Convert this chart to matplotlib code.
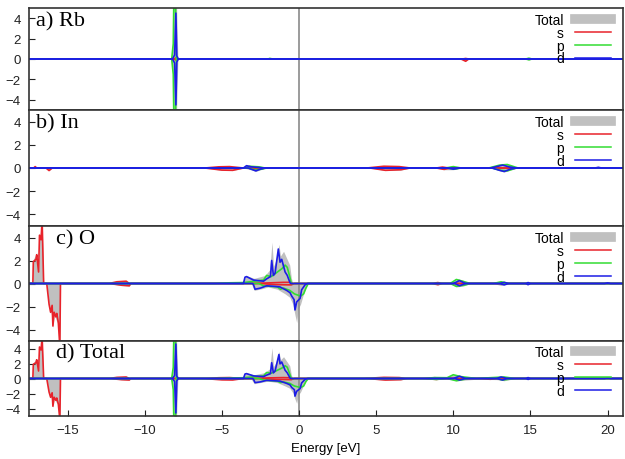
"""
Projected DOS of Rb/In/O with total, spin up (+) and spin down (-)
Four stacked panels sharing the energy axis
"""
import matplotlib
matplotlib.use('Agg')
import matplotlib.pyplot as plt
from matplotlib.lines import Line2D

plt.rcParams['font.family'] = ['Liberation Sans', 'DejaVu Sans']
plt.rcParams['font.size'] = 9.5

# ---- data: (energy eV, DOS) pairs; down spin negative ----
# a) Rb
a_tot_up = [(-17.5, 0), (-8.3, 0), (-8.15, 2.0), (-8.07, 7.0), (-7.95, 6.0), (-7.85, 0),
            (10.6, 0), (10.8, 0.05), (11.0, 0), (14.7, 0), (14.9, 0.1), (15.1, 0), (21, 0)]
a_tot_dn = [(-17.5, 0), (-8.3, 0), (-8.15, -2.0), (-8.07, -7.0), (-7.95, -6.0), (-7.85, 0),
            (10.6, 0), (10.8, -0.2), (11.0, 0), (14.7, 0), (14.9, -0.1), (15.1, 0), (21, 0)]
a_s_up = [(-17.5, 0), (-8.1, 0), (-8.0, 0.1), (-7.9, 0), (10.6, 0), (10.8, 0.05), (11.0, 0), (21, 0)]
a_s_dn = [(-17.5, 0), (-8.1, 0), (-8.0, -0.1), (-7.9, 0), (10.5, 0), (10.8, -0.22), (11.0, 0), (21, 0)]
a_p_up = [(-17.5, 0), (-8.25, 0), (-8.15, 1.5), (-8.1, 7.0), (-8.02, 7.0), (-7.95, 0),
          (-2.0, 0), (-1.9, 0.06), (-1.7, 0), (14.7, 0), (14.9, 0.08), (15.1, 0), (21, 0)]
a_p_dn = [(-17.5, 0), (-8.25, 0), (-8.15, -1.5), (-8.1, -7.0), (-8.02, -7.0), (-7.95, 0),
          (14.7, 0), (14.9, -0.08), (15.1, 0), (21, 0)]
a_d_up = [(-17.5, 0), (-8.2, 0), (-8.06, 0.4), (-7.98, 4.5), (-7.92, 0.3), (-7.82, 0), (21, 0)]
a_d_dn = [(-17.5, 0), (-8.2, 0), (-8.06, -0.4), (-7.98, -4.5), (-7.92, -0.3), (-7.82, 0), (21, 0)]

# b) In
b_tot_up = [(-17.5, 0), (-17.2, 0), (-17.1, 0.12), (-17.0, 0), (-6.1, 0), (-5.2, 0.12), (-4.5, 0.15),
            (-3.6, 0.05), (-3.4, 0.3), (-3.0, 0.15), (-2.2, 0), (4.4, 0), (5.5, 0.18), (6.5, 0.15),
            (7.2, 0), (8.9, 0), (9.3, 0.1), (10.0, 0.15), (10.5, 0), (12.3, 0), (13.0, 0.3),
            (13.4, 0.35), (14.2, 0), (21, 0)]
b_tot_dn = [(-17.5, 0), (-16.4, 0), (-16.2, -0.22), (-16.0, 0), (-6.1, 0), (-5.0, -0.2), (-4.3, -0.22),
            (-3.6, 0), (-3.0, -0.2), (-2.8, -0.3), (-2.2, 0), (4.6, 0), (5.6, -0.22), (6.6, -0.18),
            (7.2, 0), (8.9, 0), (9.4, -0.15), (10.0, -0.15), (10.5, 0), (12.5, 0), (13.0, -0.25),
            (13.3, -0.35), (14.1, 0), (21, 0)]
b_s_up = [(-17.5, 0), (-17.2, 0), (-17.1, 0.12), (-17.0, 0), (-6.1, 0), (-5.2, 0.1), (-4.5, 0.12),
          (-3.6, 0), (4.4, 0), (5.5, 0.15), (6.5, 0.12), (7.2, 0), (8.9, 0), (9.3, 0.08), (9.7, 0), (21, 0)]
b_s_dn = [(-17.5, 0), (-16.4, 0), (-16.2, -0.22), (-16.0, 0), (-6.1, 0), (-5.0, -0.18), (-4.3, -0.2),
          (-3.6, 0), (4.6, 0), (5.6, -0.2), (6.6, -0.15), (7.2, 0), (8.9, 0), (9.4, -0.12), (9.8, 0), (21, 0)]
b_p_up = [(-17.5, 0), (-3.5, 0), (-3.2, 0.15), (-2.6, 0.1), (-2.2, 0), (9.5, 0), (10.0, 0.12),
          (10.5, 0), (12.3, 0), (13.0, 0.25), (13.5, 0.3), (14.2, 0), (21, 0)]
b_p_dn = [(-17.5, 0), (-3.3, 0), (-2.9, -0.15), (-2.4, -0.1), (-2.1, 0), (9.6, 0), (10.1, -0.1),
          (10.5, 0), (12.5, 0), (13.1, -0.2), (13.5, -0.25), (14.1, 0), (21, 0)]
b_d_up = [(-17.5, 0), (-3.6, 0), (-3.4, 0.2), (-3.1, 0.1), (-2.6, 0.05), (-2.3, 0), (12.4, 0),
          (12.9, 0.15), (13.2, 0.25), (13.6, 0.1), (14.1, 0), (19.2, 0), (19.4, 0.06), (19.6, 0), (21, 0)]
b_d_dn = [(-17.5, 0), (-3.3, 0), (-3.0, -0.15), (-2.8, -0.25), (-2.5, -0.1), (-2.2, 0), (9.6, 0),
          (10.0, -0.1), (10.4, 0), (12.5, 0), (13.0, -0.2), (13.3, -0.3), (13.7, -0.1), (14.1, 0), (21, 0)]

# c) O
c_tot_up = [(-17.5, 0), (-17.25, 0), (-17.22, 2.1), (-17.0, 2.7), (-16.88, 1.2), (-16.82, 4.4),
            (-16.72, 4.0), (-16.65, 5.5), (-16.55, 0), (-12.3, 0), (-11.8, 0.18), (-11.2, 0.22),
            (-11.0, 0), (-5.5, 0), (-4.5, 0.08), (-3.6, 0.1), (-3.45, 0.7), (-2.9, 0.45), (-2.2, 0.7),
            (-1.9, 1.2), (-1.75, 3.6), (-1.65, 1.5), (-1.5, 2.0), (-1.3, 3.4), (-1.2, 2.4),
            (-1.0, 2.8), (-0.8, 2.2), (-0.6, 1.6), (-0.5, 0.5), (-0.4, 0), (8.6, 0), (9.0, 0.1),
            (9.3, 0), (9.8, 0), (10.3, 0.4), (10.6, 0.3), (11.1, 0), (12.6, 0), (13.1, 0.2),
            (13.6, 0), (14.6, 0), (14.8, 0.12), (15.0, 0), (19.8, 0), (20.0, 0.06), (20.2, 0), (21, 0)]
c_tot_dn = [(-17.5, 0), (-16.35, 0), (-16.2, -1.9), (-16.1, -2.7), (-16.0, -2.0), (-15.95, -3.9),
            (-15.87, -2.7), (-15.76, -3.1), (-15.6, -3.6), (-15.5, -5.5), (-15.46, 0), (-12.3, 0),
            (-11.5, -0.18), (-11.0, -0.22), (-10.9, 0), (-3.1, 0), (-2.9, -0.6), (-2.4, -0.45),
            (-2.0, -0.3), (-1.4, -0.5), (-0.9, -0.9), (-0.6, -1.2), (-0.4, -1.8), (-0.25, -2.8),
            (-0.15, -3.4), (-0.05, -2.2), (0.1, -1.8), (0.25, -1.1), (0.45, -0.3), (0.6, 0),
            (8.6, 0), (9.0, -0.12), (9.3, 0), (9.8, 0), (10.2, -0.3), (10.7, -0.2), (11.1, 0),
            (12.6, 0), (13.1, -0.18), (13.6, 0), (14.6, 0), (14.8, -0.12), (15.0, 0), (21, 0)]
c_s_up = [(-17.5, 0), (-17.25, 0), (-17.22, 1.9), (-17.05, 2.1), (-17.0, 2.5), (-16.88, 1.0),
          (-16.82, 4.2), (-16.72, 3.8), (-16.65, 5.5), (-16.55, 0), (-12.3, 0), (-11.8, 0.15),
          (-11.2, 0.2), (-11.0, 0), (-3.0, 0), (-2.0, 0.05), (-1.0, 0.1), (-0.6, 0.1), (-0.4, 0),
          (8.6, 0), (9.0, 0.08), (9.3, 0), (21, 0)]
c_s_dn = [(-17.5, 0), (-16.35, 0), (-16.2, -1.8), (-16.1, -2.5), (-16.0, -1.9), (-15.95, -3.7),
          (-15.87, -2.5), (-15.76, -2.9), (-15.7, -2.6), (-15.6, -3.4), (-15.5, -5.5), (-15.46, 0),
          (-12.3, 0), (-11.5, -0.15), (-11.0, -0.2), (-10.9, 0), (-2.5, 0), (-1.5, -0.1),
          (-0.5, -0.12), (-0.3, 0), (8.6, 0), (9.0, -0.1), (9.3, 0), (21, 0)]
c_p_up = [(-17.5, 0), (-5.5, 0), (-4.5, 0.06), (-3.6, 0.08), (-2.3, 0.3), (-2.1, 0.7), (-1.8, 0.6),
          (-1.6, 0.8), (-1.4, 1.0), (-1.1, 1.3), (-0.9, 1.6), (-0.76, 1.4), (-0.6, 0.6), (-0.5, 0),
          (9.8, 0), (10.2, 0.35), (10.6, 0.2), (11.1, 0), (12.6, 0), (13.1, 0.15), (13.6, 0), (21, 0)]
c_p_dn = [(-17.5, 0), (-2.6, 0), (-2.3, -0.2), (-1.4, -0.3), (-1.2, -0.5), (-1.0, -0.4), (-0.6, -0.6),
          (-0.3, -0.9), (0.1, -1.1), (0.3, -0.9), (0.45, -0.4), (0.6, 0), (9.8, 0), (10.2, -0.25),
          (10.7, -0.15), (11.1, 0), (21, 0)]
c_d_up = [(-17.5, 0), (-3.6, 0), (-3.5, 0.55), (-3.4, 0.6), (-2.95, 0.3), (-2.3, 0.2), (-2.1, 0.4),
          (-1.85, 0.6), (-1.77, 2.0), (-1.66, 0.7), (-1.55, 0.9), (-1.34, 3.0), (-1.23, 1.85),
          (-1.12, 2.1), (-0.9, 1.0), (-0.76, 0.7), (-0.58, 0.05), (-0.5, 0), (10.0, 0), (10.4, 0.25),
          (10.8, 0), (13.0, 0), (13.3, 0.1), (13.6, 0), (14.7, 0), (14.85, 0.08), (15.0, 0),
          (19.8, 0), (20.0, 0.05), (20.2, 0), (21, 0)]
c_d_dn = [(-17.5, 0), (-3.0, 0), (-2.95, -0.1), (-2.85, -0.5), (-2.5, -0.4), (-2.1, -0.2), (-1.6, -0.25),
          (-1.23, -0.3), (-0.8, -0.6), (-0.58, -0.8), (-0.47, -1.1), (-0.32, -1.4), (-0.26, -2.3),
          (-0.15, -1.6), (0.07, -1.3), (0.17, -0.55), (0.4, -0.1), (0.55, 0), (10.1, 0), (10.4, -0.2),
          (10.8, 0), (13.0, 0), (13.3, -0.12), (13.6, 0), (14.7, 0), (14.85, -0.1), (15.0, 0), (21, 0)]

# d) Total
d_tot_up = [(-17.5, 0), (-17.25, 0), (-17.22, 2.1), (-17.0, 2.7), (-16.88, 1.2), (-16.82, 4.4),
            (-16.72, 4.0), (-16.65, 5.5), (-16.55, 0), (-12.3, 0), (-11.8, 0.18), (-11.2, 0.22),
            (-11.0, 0), (-8.3, 0), (-8.15, 2.0), (-8.07, 7.0), (-7.95, 6.0), (-7.85, 0), (-6.4, 0),
            (-5.0, 0.15), (-3.6, 0.1), (-3.45, 0.8), (-2.9, 0.5), (-2.2, 0.8), (-1.9, 1.3),
            (-1.75, 4.1), (-1.65, 1.6), (-1.5, 2.1), (-1.3, 3.6), (-1.2, 2.5), (-1.0, 2.9),
            (-0.8, 2.3), (-0.6, 1.7), (-0.5, 0.5), (-0.4, 0), (4.2, 0), (5.5, 0.2), (6.5, 0.15),
            (7.0, 0), (8.0, 0), (8.8, 0.15), (9.5, 0.1), (10.0, 0.5), (10.5, 0.3), (11.5, 0.1),
            (12.8, 0.2), (13.2, 0.3), (14.0, 0), (14.7, 0), (14.85, 0.15), (15.0, 0), (19.8, 0),
            (20.0, 0.08), (20.2, 0), (21, 0)]
d_tot_dn = [(-17.5, 0), (-16.35, 0), (-16.2, -1.9), (-16.1, -2.7), (-16.0, -2.0), (-15.95, -3.9),
            (-15.87, -2.7), (-15.76, -3.1), (-15.6, -3.6), (-15.5, -5.5), (-15.46, 0), (-12.3, 0),
            (-11.5, -0.18), (-11.0, -0.22), (-10.9, 0), (-8.3, 0), (-8.15, -2.0), (-8.07, -7.0),
            (-7.95, -6.0), (-7.85, 0), (-6.4, 0), (-5.0, -0.15), (-3.1, -0.1), (-2.9, -0.7),
            (-2.4, -0.5), (-2.0, -0.35), (-1.4, -0.55), (-0.9, -1.0), (-0.6, -1.3), (-0.4, -1.9),
            (-0.25, -2.8), (-0.15, -3.3), (-0.05, -2.2), (0.1, -1.8), (0.25, -1.1), (0.45, -0.3),
            (0.6, 0), (4.2, 0), (5.6, -0.22), (6.6, -0.18), (7.0, 0), (8.0, 0), (8.9, -0.15),
            (9.6, 0), (10.2, -0.3), (11.5, -0.1), (12.8, -0.15), (13.3, -0.3), (14.0, 0), (14.7, 0),
            (14.85, -0.15), (15.0, 0), (21, 0)]
d_s_up = [(-17.5, 0), (-17.25, 0), (-17.22, 1.9), (-17.05, 2.1), (-17.0, 2.5), (-16.88, 1.0),
          (-16.82, 4.2), (-16.72, 3.8), (-16.65, 5.5), (-16.55, 0), (-12.3, 0), (-11.8, 0.15),
          (-11.2, 0.2), (-11.0, 0), (-6.2, 0), (-5.2, 0.1), (-4.5, 0.12), (-3.6, 0), (-3.0, 0),
          (-2.0, 0.08), (-1.0, 0.12), (-0.6, 0.1), (-0.4, 0), (4.2, 0), (5.5, 0.15), (6.5, 0.12),
          (7.0, 0), (8.0, 0), (8.8, 0.1), (9.5, 0), (11.5, 0), (12.3, 0.08), (13.0, 0), (21, 0)]
d_s_dn = [(-17.5, 0), (-16.35, 0), (-16.2, -1.8), (-16.1, -2.5), (-16.0, -1.9), (-15.95, -3.7),
          (-15.87, -2.5), (-15.76, -2.9), (-15.7, -2.6), (-15.6, -3.4), (-15.5, -5.5), (-15.46, 0),
          (-12.3, 0), (-11.5, -0.15), (-11.0, -0.2), (-10.9, 0), (-6.2, 0), (-5.0, -0.18),
          (-4.3, -0.2), (-3.6, 0), (-2.5, 0), (-1.5, -0.12), (-0.5, -0.15), (-0.3, 0), (4.4, 0),
          (5.6, -0.2), (6.6, -0.15), (7.0, 0), (8.0, 0), (8.9, -0.12), (9.5, 0), (11.5, 0),
          (12.4, -0.1), (13.0, 0), (21, 0)]
d_p_up = [(-17.5, 0), (-8.25, 0), (-8.15, 1.5), (-8.1, 7.0), (-8.02, 7.0), (-7.95, 0), (-5.5, 0),
          (-4.5, 0.06), (-3.6, 0.1), (-2.3, 0.35), (-2.1, 0.8), (-1.8, 0.7), (-1.6, 0.9),
          (-1.4, 1.1), (-1.1, 1.4), (-0.9, 1.7), (-0.76, 1.5), (-0.6, 0.6), (-0.5, 0), (8.0, 0),
          (8.8, 0.12), (9.6, 0.1), (10.0, 0.5), (10.5, 0.25), (11.5, 0), (12.8, 0.15), (13.3, 0.2),
          (14.0, 0), (21, 0)]
d_p_dn = [(-17.5, 0), (-8.25, 0), (-8.15, -1.5), (-8.1, -7.0), (-8.02, -7.0), (-7.95, 0), (-2.6, 0),
          (-2.3, -0.2), (-1.4, -0.35), (-1.2, -0.55), (-1.0, -0.45), (-0.6, -0.65), (-0.3, -1.0),
          (0.1, -1.2), (0.3, -1.0), (0.45, -0.4), (0.6, 0), (8.0, 0), (8.9, -0.12), (9.6, 0),
          (10.2, -0.3), (11.0, 0), (12.8, 0), (13.2, -0.2), (14.0, 0), (21, 0)]
d_d_up = [(-17.5, 0), (-8.2, 0), (-8.06, 0.4), (-7.98, 4.6), (-7.92, 0.3), (-7.82, 0), (-3.6, 0),
          (-3.5, 0.6), (-3.4, 0.65), (-2.95, 0.35), (-2.3, 0.25), (-2.1, 0.45), (-1.85, 0.65),
          (-1.77, 2.1), (-1.66, 0.75), (-1.55, 1.0), (-1.3, 3.2), (-1.23, 1.95), (-1.12, 2.2),
          (-0.9, 1.1), (-0.76, 0.75), (-0.58, 0.05), (-0.5, 0), (10.0, 0), (10.4, 0.3), (10.8, 0),
          (12.8, 0), (13.1, 0.2), (13.5, 0), (14.7, 0), (14.85, 0.12), (15.0, 0), (19.8, 0),
          (20.0, 0.08), (20.2, 0), (21, 0)]
d_d_dn = [(-17.5, 0), (-8.2, 0), (-8.06, -0.4), (-7.98, -4.6), (-7.92, -0.3), (-7.82, 0), (-3.0, 0),
          (-2.95, -0.1), (-2.85, -0.55), (-2.5, -0.45), (-2.1, -0.25), (-1.6, -0.3), (-1.23, -0.35),
          (-0.8, -0.65), (-0.58, -0.85), (-0.47, -1.2), (-0.3, -1.5), (-0.26, -2.35), (-0.15, -1.7),
          (0.07, -1.35), (0.17, -0.6), (0.4, -0.1), (0.55, 0), (10.1, 0), (10.4, -0.2), (10.8, 0),
          (12.8, 0), (13.2, -0.2), (13.5, 0), (14.7, 0), (14.85, -0.12), (15.0, 0), (21, 0)]

panel_labels = ['a) Rb', 'b) In', 'c) O', 'd) Total']
legend_labels = ['Total', 's', 'p', 'd']
xticks = [-15, -10, -5, 0, 5, 10, 15, 20]
yticks = [-4, -2, 0, 2, 4]

panels = [
    (a_tot_up, a_tot_dn, a_s_up, a_s_dn, a_p_up, a_p_dn, a_d_up, a_d_dn),
    (b_tot_up, b_tot_dn, b_s_up, b_s_dn, b_p_up, b_p_dn, b_d_up, b_d_dn),
    (c_tot_up, c_tot_dn, c_s_up, c_s_dn, c_p_up, c_p_dn, c_d_up, c_d_dn),
    (d_tot_up, d_tot_dn, d_s_up, d_s_dn, d_p_up, d_p_dn, d_d_up, d_d_dn),
]

# ---- style ----
col_tot = '#c0c0c0'
col_s = '#e8232b'
col_p = '#33dd33'
col_d = '#1c1ce6'
lw = 1.2


def xy(pairs):
    return [p[0] for p in pairs], [p[1] for p in pairs]


fig = plt.figure(figsize=(6.25, 4.6), dpi=100)
fig.patch.set_facecolor('white')

# panel rectangles in figure fraction, top to bottom
left, width = 29 / 625, 594 / 625
tops_px = [9, 111, 227, 342]
bottoms_px = [111, 227, 342, 417]
label_x = [0.012, 0.012, 0.045, 0.045]

for i, data in enumerate(panels):
    b = 1 - bottoms_px[i] / 460
    h = (bottoms_px[i] - tops_px[i]) / 460
    ax = fig.add_axes([left, b, width, h])
    tot_up, tot_dn, s_up, s_dn, p_up, p_dn, d_up, d_dn = data

    for tot in (tot_up, tot_dn):
        e, v = xy(tot)
        ax.fill_between(e, 0, v, color=col_tot, lw=0, zorder=1)
    ax.axvline(0, color='#8a8a8a', lw=1.2, zorder=1.5)
    for curve, col in ((s_up, col_s), (s_dn, col_s), (p_up, col_p), (p_dn, col_p),
                       (d_up, col_d), (d_dn, col_d)):
        e, v = xy(curve)
        ax.plot(e, v, color=col, lw=lw, zorder=2)

    ax.set_xlim(-17.5, 21)
    ax.set_ylim(-5, 5)
    ax.set_yticks(yticks)
    ax.set_xticks(xticks)
    ax.tick_params(direction='in', length=4, width=0.8, labelsize=9.5, pad=6,
                   colors='#222222', right=False, top=False)
    if i < 3:
        ax.tick_params(axis='x', bottom=False, labelbottom=False)
    for sp in ax.spines.values():
        sp.set_linewidth(1.2)
        sp.set_color('#333333')

    ax.text(label_x[i], 0.97, panel_labels[i], transform=ax.transAxes,
            ha='left', va='top', fontsize=16, family=['Liberation Serif', 'DejaVu Serif'])

    handles = [Line2D([], [], color=col_tot, lw=7),
               Line2D([], [], color=col_s, lw=1.1),
               Line2D([], [], color=col_p, lw=1.1),
               Line2D([], [], color=col_d, lw=1.1)]
    ax.legend(handles, legend_labels, loc='upper right', frameon=False, markerfirst=False,
              bbox_to_anchor=(1 - 9 / 594, 1 - 2 / 100), borderaxespad=0, borderpad=0.2,
              handlelength=2.6, handletextpad=0.8, labelspacing=-0.08, fontsize=10)

    if i == 3:
        ax.set_xlabel('Energy [eV]', fontsize=9.5, labelpad=4)

plt.savefig('out.png', dpi=100, facecolor='white')
